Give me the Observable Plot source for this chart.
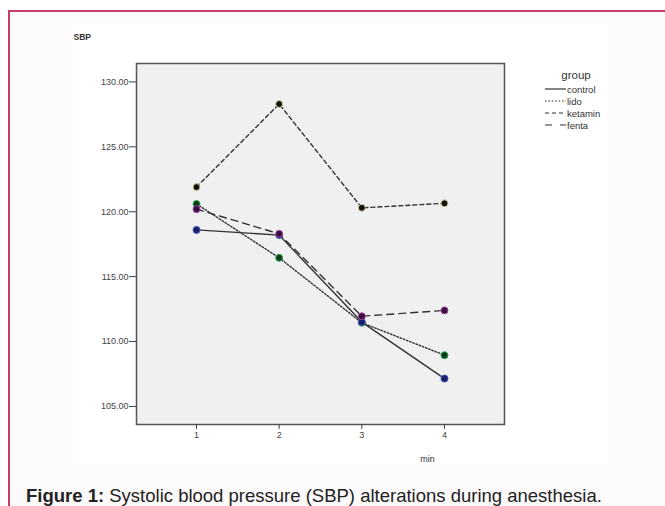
<!DOCTYPE html>
<html><head><meta charset="utf-8">
<script src="https://cdn.jsdelivr.net/npm/d3@7"></script>
<script src="https://cdn.jsdelivr.net/npm/@observablehq/plot@0.6"></script>
<style>
html,body{margin:0;padding:0;background:#fff;}
body{width:665px;height:506px;overflow:hidden;position:relative;font-family:"Liberation Sans",Arial,sans-serif;}
#outer{position:absolute;left:8px;top:10px;width:700px;height:540px;border-left:2px solid #c4406a;border-top:2px solid #c4406a;background:#fcfafb;}
#panel{position:absolute;left:72px;top:24px;width:537px;height:441px;background:#fff;}
#chart{position:absolute;left:72px;top:24px;}
#legend{position:absolute;left:545px;top:69px;font-size:9.5px;color:#333;}
#legend .ttl{font-size:11.5px;text-align:center;width:62px;margin-bottom:2px;}
#legend .row{display:flex;align-items:center;height:12px;}
#legend svg{margin-right:1px;}
#caption{position:absolute;left:26px;top:485px;font-size:18.5px;line-height:22px;color:#222;white-space:nowrap;}
</style></head>
<body>
<div id="outer"></div>
<div id="panel"></div>
<div id="chart"></div>
<div id="legend"></div>
<div id="caption"><b>Figure 1:</b> Systolic blood pressure (SBP) alterations during anesthesia.</div>
<script>
const minutes = [1, 2, 3, 4];
const groups = ["control", "lido", "ketamin", "fenta"];
const control = [118.6, 118.2, 111.5, 107.15];
const lido = [120.6, 116.45, 111.45, 108.95];
const ketamin = [121.9, 128.3, 120.3, 120.65];
const fenta = [120.2, 118.3, 111.95, 112.4];
const yTicks = [105, 110, 115, 120, 125, 130];

const values = {control, lido, ketamin, fenta};
const dashes = {control: null, lido: "1.6,1.8", ketamin: "4,3", fenta: "7,5"};
const legendDashes = {control: null, lido: "1.6,1.8", ketamin: "4,3", fenta: "7,8"};
const dotFill = {control: "#1b1f66", lido: "#0d3a1c", ketamin: "#111111", fenta: "#3a0c3e"};
const dotStroke = {control: "#4058b8", lido: "#2fae50", ketamin: "#d8d09a", fenta: "#a04aa6"};

const data = groups.flatMap(g => minutes.map((m, i) => ({group: g, min: m, sbp: values[g][i]})));

const marks = [
  Plot.frame({fill: "#f0f0f0", stroke: "none"}),
];
for (const g of ["ketamin", "lido", "fenta", "control"]) {
  const d = data.filter(r => r.group === g);
  marks.push(Plot.line(d, {x: "min", y: "sbp", stroke: "#333", strokeWidth: 1.4, strokeDasharray: dashes[g] ?? undefined}));
}
for (const g of ["ketamin", "lido", "control", "fenta"]) {
  const d = data.filter(r => r.group === g);
  marks.push(Plot.dot(d, {x: "min", y: "sbp", r: 3.5, fill: dotFill[g], stroke: dotStroke[g], strokeWidth: 1}));
}
marks.push(
  Plot.frame({stroke: "#555", strokeWidth: 1.5}),
  Plot.axisY({ticks: yTicks, tickFormat: d => d.toFixed(2), tickSize: 7, tickPadding: 1, fontSize: 9, label: null, color: "#444"}),
  Plot.axisX({ticks: minutes, tickFormat: d => String(d), tickSize: 5, tickPadding: 2, fontSize: 9, label: null, color: "#444"}),
  Plot.text(["SBP"], {frameAnchor: "top-left", dx: -63, dy: -30, text: d => d, textAnchor: "start", fontSize: 8.5, fontWeight: "bold", fill: "#333"}),
  Plot.text(["min"], {frameAnchor: "bottom-left", dx: 291, dy: 37, text: d => d, textAnchor: "middle", fontSize: 9, fill: "#333"})
);

const chart = Plot.plot({
  width: 537, height: 441,
  marginLeft: 64, marginRight: 105, marginTop: 39, marginBottom: 41,
  style: {background: "transparent", fontFamily: "Liberation Sans, Arial, sans-serif"},
  x: {type: "linear", domain: [0.274, 4.726]},
  y: {domain: [103.61, 131.42]},
  marks
});
document.getElementById("chart").appendChild(chart);

// legend
const leg = document.getElementById("legend");
const ttl = document.createElement("div");
ttl.className = "ttl"; ttl.textContent = "group";
leg.appendChild(ttl);
for (const g of groups) {
  const row = document.createElement("div");
  row.className = "row";
  row.innerHTML = `<svg width="21" height="6"><line x1="0" x2="21" y1="3" y2="3" stroke="#333" stroke-width="1.2" ${legendDashes[g] ? `stroke-dasharray="${legendDashes[g]}"` : ""}/></svg><span>${g}</span>`;
  leg.appendChild(row);
}
</script>
</body></html>
